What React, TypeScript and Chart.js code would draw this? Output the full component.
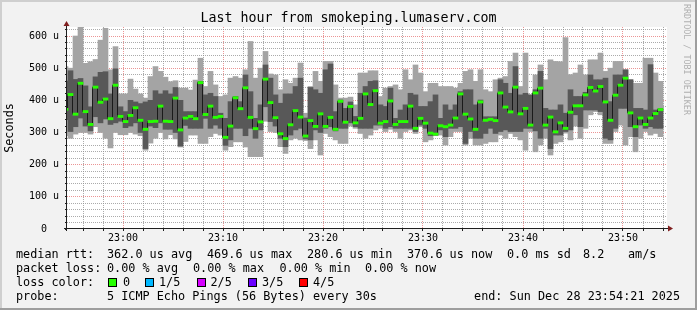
import React, { useEffect, useRef } from "react";
import { Chart, registerables } from "chart.js";

Chart.register(...registerables);

// ---- time axis (minutes after 22:00) ----
const FIRST_SAMPLE_MIN = 54.0; // start of first (partial) 30 s sample
const SAMPLE_STEP_MIN = 0.5;
const X_MIN = 54.4;
const X_MAX = 114.4;
const Y_MAX = 628;

// ---- rtt data in microseconds (5 pings per sample, sorted) ----
const medianRtt = [
  372, 418, 357, 453, 365, 325, 441, 394, 404, 343, 447, 350, 334, 353, 377, 338, 310, 334, 335, 382,
  335, 334, 407, 308, 345, 350, 343, 455, 356, 382, 347, 350, 285, 320, 408, 374, 439, 347, 312, 333,
  466, 393, 346, 296, 281, 324, 368, 348, 289, 337, 319, 358, 319, 347, 310, 397, 332, 381, 330, 344,
  420, 387, 430, 329, 334, 398, 325, 334, 334, 382, 313, 344, 329, 298, 295, 321, 318, 323, 345, 420,
  357, 342, 310, 395, 338, 341, 337, 423, 379, 364, 441, 358, 375, 323, 423, 438, 323, 348, 302, 330,
  313, 363, 383, 383, 417, 440, 429, 443, 395, 338, 416, 447, 469, 361, 318, 345, 325, 345, 359, 371,
];
const maxRtt = [
  505, 500, 600, 627, 515, 520, 527, 587, 624, 495, 567, 420, 420, 466, 435, 420, 407, 474, 505, 490,
  472, 458, 461, 438, 438, 432, 463, 531, 443, 490, 448, 412, 417, 469, 474, 469, 495, 583, 469, 500,
  552, 482, 479, 433, 464, 453, 469, 516, 360, 443, 490, 459, 521, 521, 448, 407, 407, 410, 386, 485,
  485, 492, 492, 412, 438, 443, 448, 433, 495, 464, 510, 485, 427, 453, 453, 443, 443, 443, 438, 453,
  490, 495, 459, 495, 433, 427, 464, 469, 474, 521, 547, 443, 547, 417, 479, 510, 464, 526, 521, 520,
  595, 480, 485, 510, 479, 526, 526, 547, 490, 500, 521, 521, 495, 464, 453, 453, 531, 531, 485, 459,
];
const upperRtt = [
  460, 492, 465, 468, 445, 380, 473, 487, 489, 420, 498, 380, 365, 400, 395, 390, 395, 400, 430, 420,
  430, 420, 440, 400, 365, 365, 365, 459, 417, 422, 412, 360, 344, 396, 412, 396, 479, 427, 344, 386,
  510, 469, 417, 391, 420, 420, 443, 469, 345, 440, 433, 422, 495, 513, 365, 401, 375, 395, 350, 422,
  443, 459, 461, 386, 381, 438, 344, 370, 386, 422, 417, 381, 381, 396, 417, 344, 386, 370, 386, 427,
  433, 433, 386, 401, 349, 349, 349, 464, 453, 422, 505, 417, 422, 417, 433, 490, 375, 370, 370, 386,
  360, 433, 412, 412, 425, 479, 464, 464, 469, 396, 479, 479, 495, 464, 375, 375, 370, 511, 370, 375,
];
const lowerRtt = [
  340, 303, 318, 345, 320, 305, 349, 330, 342, 325, 330, 335, 315, 320, 330, 300, 250, 320, 315, 330,
  310, 310, 300, 258, 322, 313, 313, 313, 344, 313, 323, 313, 260, 277, 313, 313, 290, 313, 282, 308,
  380, 334, 320, 282, 256, 292, 308, 313, 280, 277, 308, 300, 313, 318, 305, 313, 313, 330, 318, 313,
  313, 313, 323, 323, 313, 318, 313, 313, 313, 313, 303, 323, 313, 290, 292, 308, 287, 313, 313, 318,
  266, 303, 282, 282, 297, 313, 297, 303, 308, 303, 303, 303, 313, 313, 305, 282, 313, 250, 292, 292,
  303, 308, 355, 318, 370, 370, 370, 365, 282, 277, 313, 375, 375, 318, 287, 323, 313, 318, 313, 313,
];
const minRtt = [
  290, 282, 295, 300, 300, 295, 318, 300, 282, 252, 300, 293, 293, 300, 295, 290, 245, 267, 282, 300,
  280, 293, 280, 255, 272, 292, 292, 266, 266, 287, 297, 292, 245, 256, 271, 271, 255, 225, 225, 225,
  335, 303, 300, 256, 235, 277, 282, 277, 275, 250, 277, 230, 297, 287, 277, 266, 266, 320, 313, 297,
  282, 292, 308, 313, 303, 310, 303, 282, 303, 308, 297, 318, 271, 277, 290, 292, 261, 287, 303, 303,
  261, 282, 261, 261, 266, 271, 271, 292, 282, 297, 287, 277, 245, 303, 240, 261, 282, 230, 266, 271,
  298, 277, 320, 282, 313, 355, 365, 355, 266, 266, 303, 323, 261, 287, 240, 282, 303, 292, 297, 287,
];

// ---- axis ticks ----
const xMajorMinutes = [60, 70, 80, 90, 100, 110];
const xTickLabels = ["23:00", "23:10", "23:20", "23:30", "23:40", "23:50"];
const yMajorValues = [0, 100, 200, 300, 400, 500, 600];
const yTickLabels = ["0  ", "100 u", "200 u", "300 u", "400 u", "500 u", "600 u"];
const X_MINOR_STEP = 2;
const Y_MINOR_STEP = 20;
const MEDIAN_HALF_HEIGHT = 3.5;

// ---- legend ----
const titleText = "Last hour from smokeping.lumaserv.com";
const yAxisTitle = "Seconds";
const rttStats = ["362.0 us avg", "469.6 us max", "280.6 us min", "370.6 us now", "0.0 ms sd", "8.2", "am/s"];
const lossStats = ["0.00 % avg", "0.00 % max", "0.00 % min", "0.00 % now"];
const lossLabels = ["0", "1/5", "2/5", "3/5", "4/5"];
const lossColors = ["#26ff00", "#00b8ff", "#d600ff", "#6a00ff", "#ff0000"];
const probeText = "5 ICMP Echo Pings (56 Bytes) every 30s";
const endText = "end: Sun Dec 28 23:54:21 2025";
const watermark = "RRDTOOL / TOBI OETIKER";

const MONO = '"DejaVu Sans Mono", monospace';
const MINOR_GRID = "rgba(143,143,143,0.75)";
const MAJOR_GRID = "rgba(222,79,79,0.6)";

export default function App() {
  const canvasRef = useRef<HTMLCanvasElement | null>(null);

  useEffect(() => {
    const canvas = canvasRef.current;
    if (!canvas) return;
    const centers = medianRtt.map((_, i) => FIRST_SAMPLE_MIN + SAMPLE_STEP_MIN * i + SAMPLE_STEP_MIN / 2);

    const xTicks: number[] = [];
    for (let v = 56; v <= X_MAX; v += X_MINOR_STEP) xTicks.push(v);
    const yTicks: number[] = [];
    for (let v = 0; v <= Y_MAX; v += Y_MINOR_STEP) yTicks.push(v);

    const framePlugin = {
      id: "rrdFrame",
      beforeDraw(chart: any) {
        const { ctx, chartArea: a, width, height } = chart;
        ctx.save();
        ctx.fillStyle = "#f2f2f2";
        ctx.fillRect(0, 0, width, height);
        ctx.fillStyle = "#cfcfcf";
        ctx.fillRect(0, 0, width, 2);
        ctx.fillRect(0, 0, 2, height);
        ctx.fillStyle = "#9e9e9e";
        ctx.fillRect(0, height - 2, width, 2);
        ctx.fillRect(width - 2, 0, 2, height);
        ctx.fillStyle = "#ffffff";
        ctx.fillRect(a.left, a.top, a.right - a.left, a.bottom - a.top);
        ctx.restore();
      },
      beforeDatasetDraw(chart: any, args: any) {
        if (args.index === 2) {
          chart.ctx.save();
          chart.ctx.translate(-0.5, 0);
        }
      },
      afterDatasetDraw(chart: any, args: any) {
        if (args.index === 2) chart.ctx.restore();
      },
      afterDraw(chart: any) {
        const { ctx, chartArea: a } = chart;
        ctx.save();
        ctx.strokeStyle = "#1f1f1f";
        ctx.lineWidth = 1;
        const ax = a.left - 0.5;
        const ay = a.bottom - 0.5;
        ctx.beginPath();
        ctx.moveTo(ax, a.bottom + 2);
        ctx.lineTo(ax, a.top - 2);
        ctx.moveTo(a.left - 3, ay);
        ctx.lineTo(a.right + 2, ay);
        ctx.stroke();
        ctx.fillStyle = "#801f1f";
        ctx.beginPath();
        ctx.moveTo(ax, a.top - 6);
        ctx.lineTo(ax - 3, a.top - 1);
        ctx.lineTo(ax + 3, a.top - 1);
        ctx.closePath();
        ctx.fill();
        ctx.beginPath();
        ctx.moveTo(a.right + 6, ay);
        ctx.lineTo(a.right + 1, ay - 3);
        ctx.lineTo(a.right + 1, ay + 3);
        ctx.closePath();
        ctx.fill();
        ctx.restore();
      },
    };

    const barCommon = {
      grouped: false,
      categoryPercentage: 1,
      barPercentage: 1,
      borderWidth: 0,
      borderSkipped: false,
    };

    const chart = new Chart(canvas, {
      type: "bar",
      data: {
        datasets: [
          {
            ...barCommon,
            type: "bar",
            label: "outer",
            data: centers.map((x, i) => ({ x, y: [minRtt[i], maxRtt[i]] })),
            backgroundColor: "#a4a4a4",
            order: 4,
          } as any,
          {
            ...barCommon,
            type: "bar",
            label: "inner",
            data: centers.map((x, i) => ({ x, y: [lowerRtt[i], upperRtt[i]] })),
            backgroundColor: "#585858",
            order: 3,
          } as any,
          {
            type: "line",
            label: "median line",
            data: centers.map((x, i) => ({ x, y: medianRtt[i] })),
            stepped: "middle",
            borderColor: "#1a1a1a",
            borderWidth: 1,
            pointRadius: 0,
            fill: false,
            order: 2,
          } as any,
          {
            ...barCommon,
            type: "bar",
            label: "median",
            data: centers.map((x, i) => ({
              x,
              y: [medianRtt[i] - MEDIAN_HALF_HEIGHT, medianRtt[i] + MEDIAN_HALF_HEIGHT],
            })),
            backgroundColor: lossColors[0],
            order: 1,
          } as any,
        ],
      },
      options: {
        responsive: false,
        animation: false,
        devicePixelRatio: 1,
        events: [],
        layout: { padding: { left: 0, right: 30, top: 27, bottom: 0 } },
        plugins: {
          legend: { display: false },
          tooltip: { enabled: false },
          title: { display: false },
        },
        scales: {
          x: {
            type: "linear",
            min: X_MIN,
            max: X_MAX,
            offset: false,
            z: 1,
            afterBuildTicks: (s: any) => {
              s.ticks = xTicks.map((v) => ({ value: v }));
            },
            afterFit: (s: any) => {
              s.height = 81;
            },
            grid: {
              offset: false,
              color: (c: any) => (c.tick && c.tick.value % 10 === 0 ? MAJOR_GRID : MINOR_GRID),
              lineWidth: 1,
              tickLength: 2,
              tickColor: "#1f1f1f",
            },
            border: { display: false, dash: [1, 1] },
            ticks: {
              autoSkip: false,
              maxRotation: 0,
              minRotation: 0,
              padding: 1,
              color: "#000",
              font: { family: MONO, size: 10 },
              callback: (v: any) => {
                const k = xMajorMinutes.indexOf(Number(v));
                return k >= 0 ? xTickLabels[k] : "";
              },
            },
          },
          y: {
            type: "linear",
            min: 0,
            max: Y_MAX,
            z: 1,
            afterBuildTicks: (s: any) => {
              s.ticks = yTicks.map((v) => ({ value: v }));
            },
            afterFit: (s: any) => {
              s.width = 67;
            },
            grid: {
              color: (c: any) =>
                !c.tick || c.tick.value === 0
                  ? "rgba(0,0,0,0)"
                  : c.tick.value % 100 === 0
                  ? MAJOR_GRID
                  : MINOR_GRID,
              lineWidth: 1,
              tickLength: 2,
              tickColor: "#1f1f1f",
            },
            border: { display: false, dash: [1, 1] },
            title: {
              display: true,
              text: yAxisTitle,
              color: "#000",
              font: { family: MONO, size: 11.8 },
              padding: { top: 3, bottom: 0 },
            },
            ticks: {
              autoSkip: false,
              padding: 6,
              color: "#000",
              font: { family: MONO, size: 10 },
              callback: (v: any) => {
                const k = yMajorValues.indexOf(Number(v));
                return k >= 0 ? yTickLabels[k] : "";
              },
            },
          },
        },
      } as any,
      plugins: [framePlugin],
    });
    return () => chart.destroy();
  }, []);

  const textStyle: React.CSSProperties = {
    position: "absolute",
    whiteSpace: "pre",
    fontFamily: MONO,
    fontSize: "11.8px",
    lineHeight: "14px",
    color: "#000",
  };
  const rowTop = [246.9, 260.9, 274.9, 288.9];
  const rttX = [107, 207, 307, 407, 507, 583, 628];
  const lossX = [107, 193, 279.5, 365];
  const boxX = [108, 145, 196.5, 247.5, 298.5];
  const boxLabelX = [123, 159, 210.5, 262, 313];

  return (
    <div
      style={{
        position: "absolute",
        left: 0,
        top: 0,
        width: 697,
        height: 310,
        overflow: "hidden",
        background: "#f2f2f2",
      }}
    >
      <canvas
        ref={canvasRef}
        width={697}
        height={310}
        style={{ position: "absolute", left: 0, top: 0, width: 697, height: 310 }}
      />
      <div
        style={{
          position: "absolute",
          left: 0,
          top: 10,
          width: 697,
          textAlign: "center",
          whiteSpace: "pre",
          fontFamily: MONO,
          fontSize: "13.3px",
          lineHeight: "16px",
          color: "#000",
        }}
      >
        {titleText}
      </div>
      <div
        style={{
          position: "absolute",
          left: 682,
          top: 4,
          writingMode: "vertical-rl",
          fontFamily: MONO,
          fontSize: "8.4px",
          lineHeight: "10px",
          color: "#b0b0b0",
          whiteSpace: "pre",
        }}
      >
        {watermark}
      </div>

      <div style={{ ...textStyle, left: 16, top: rowTop[0] }}>median rtt:</div>
      {rttStats.map((s, i) => (
        <div key={"r" + i} style={{ ...textStyle, left: rttX[i], top: rowTop[0] }}>
          {s}
        </div>
      ))}

      <div style={{ ...textStyle, left: 16, top: rowTop[1] }}>packet loss:</div>
      {lossStats.map((s, i) => (
        <div key={"l" + i} style={{ ...textStyle, left: lossX[i], top: rowTop[1] }}>
          {s}
        </div>
      ))}

      <div style={{ ...textStyle, left: 16, top: rowTop[2] }}>loss color:</div>
      {lossLabels.map((s, i) => (
        <React.Fragment key={"c" + i}>
          <div
            style={{
              position: "absolute",
              left: boxX[i],
              top: 278,
              width: 9,
              height: 9,
              boxSizing: "border-box",
              border: "1px solid #000",
              background: lossColors[i],
            }}
          />
          <div style={{ ...textStyle, left: boxLabelX[i], top: rowTop[2] }}>{s}</div>
        </React.Fragment>
      ))}

      <div style={{ ...textStyle, left: 16, top: rowTop[3] }}>probe:</div>
      <div style={{ ...textStyle, left: 107, top: rowTop[3] }}>{probeText}</div>
      <div style={{ ...textStyle, right: 17, top: rowTop[3] }}>{endText}</div>
    </div>
  );
}
